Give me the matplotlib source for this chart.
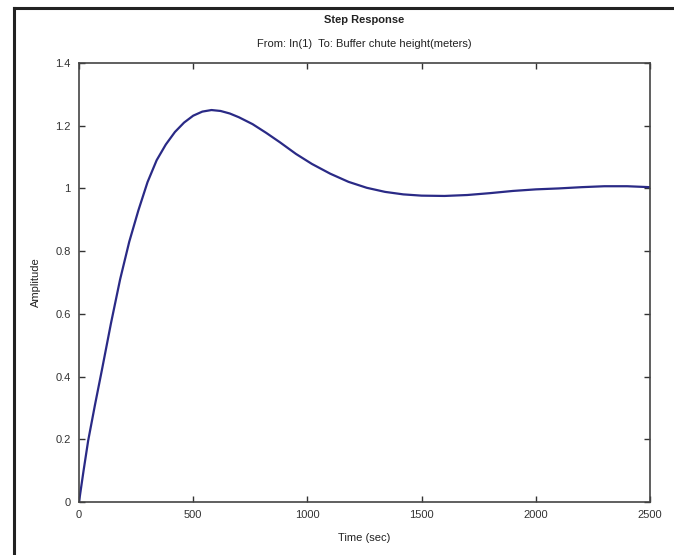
import matplotlib
matplotlib.use("Agg")
import matplotlib.pyplot as plt
from matplotlib.lines import Line2D

time_s = [0, 20, 40, 70, 100, 140, 180, 220, 260, 300, 340, 380, 420, 460, 500,
          540, 580, 620, 660, 700, 760, 820, 880, 950, 1020, 1100, 1180, 1260,
          1340, 1420, 1500, 1600, 1700, 1800, 1900, 2000, 2100, 2200, 2300, 2400, 2500]
amplitude = [0.0, 0.10, 0.195, 0.31, 0.42, 0.57, 0.71, 0.83, 0.93, 1.02, 1.09, 1.14,
             1.18, 1.21, 1.232, 1.245, 1.25, 1.247, 1.239, 1.227, 1.205, 1.177, 1.147,
             1.11, 1.078, 1.047, 1.021, 1.002, 0.989, 0.981, 0.977, 0.976, 0.979, 0.985,
             0.992, 0.997, 1.0, 1.004, 1.007, 1.007, 1.004]
x_ticks = [0, 500, 1000, 1500, 2000, 2500]
y_ticks = [0, 0.2, 0.4, 0.6, 0.8, 1.0, 1.2, 1.4]
y_tick_labels = ["0", "0.2", "0.4", "0.6", "0.8", "1", "1.2", "1.4"]

plt.rcParams['font.family'] = ['Liberation Sans', 'DejaVu Sans']

W, H = 674, 555
fig = plt.figure(figsize=(W / 100, H / 100), dpi=100)
fig.patch.set_facecolor('white')

left, right, top, bottom = 79, 650, 63, 502
ax = fig.add_axes([left / W, 1 - bottom / H, (right - left) / W, (bottom - top) / H])

ax.plot(time_s, amplitude, color='#2a2a86', lw=1.6)
ax.set_xlim(0, 2500)
ax.set_ylim(0, 1.4)
ax.set_xticks(x_ticks)
ax.set_xticklabels([str(v) for v in x_ticks])
ax.set_yticks(y_ticks)
ax.set_yticklabels(y_tick_labels)
ax.tick_params(direction='in', top=True, right=True, length=4, width=1,
               labelsize=8, colors='#333333', pad=6)
for s in ax.spines.values():
    s.set_color('#444444')
    s.set_linewidth(1.2)

ax.set_xlabel('Time (sec)', fontsize=8, color='#222222', labelpad=9)
ax.set_ylabel('Amplitude', fontsize=8, color='#222222', labelpad=10)

fig.text((left + right) / 2 / W, 1 - 20 / H, 'Step Response', ha='center', va='center',
         fontsize=8, fontweight='bold', color='#222222')
fig.text((left + right) / 2 / W, 1 - 44 / H, 'From: In(1)  To: Buffer chute height(meters)',
         ha='center', va='center', fontsize=8, color='#222222')

# L-shaped outer frame (top and left edges)
fig.add_artist(Line2D([14 / W, 14 / W], [0, 1 - 8 / H], transform=fig.transFigure,
                      color='#222222', lw=2.2))
fig.add_artist(Line2D([14 / W, 1], [1 - 8 / H, 1 - 8 / H], transform=fig.transFigure,
                      color='#222222', lw=2.2))

fig.savefig('out.png', dpi=100)
